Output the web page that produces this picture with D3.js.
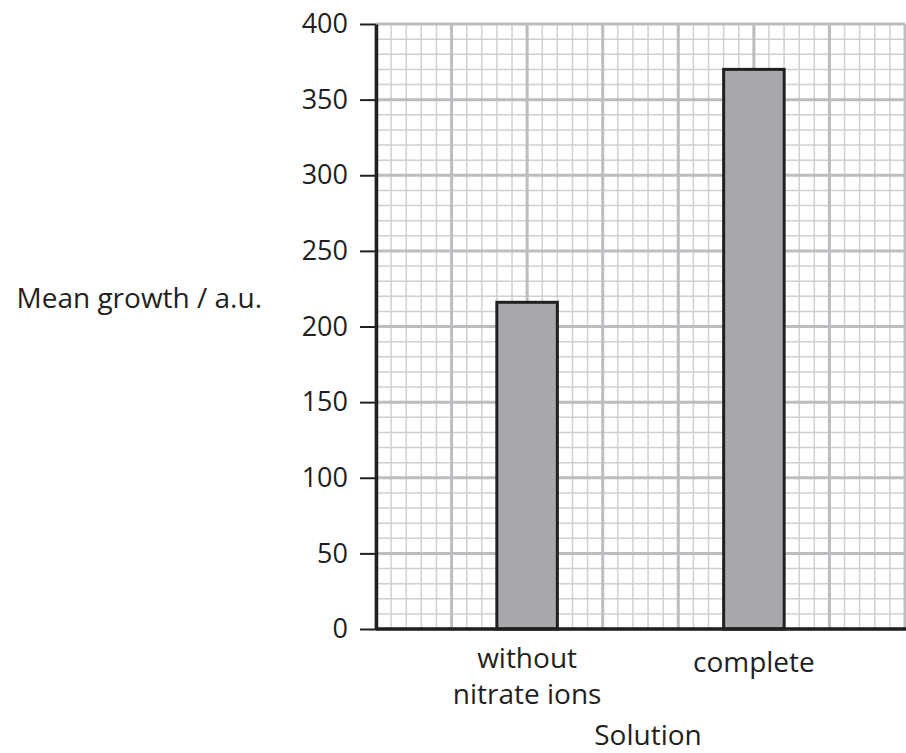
<!DOCTYPE html>
<html>
<head>
<meta charset="utf-8">
<script src="https://cdn.jsdelivr.net/npm/d3@7"></script>
<style>
  body { margin: 0; background: #fff; }
  svg text { font-family: "Open Sans", sans-serif; fill: #231f20; }
</style>
</head>
<body>
<svg id="chart" width="906" height="753"></svg>
<script>
var categories = ['without\nnitrate ions', 'complete'];
var meanGrowth = [216, 370];
var yTicks = [0, 50, 100, 150, 200, 250, 300, 350, 400];
var yLabel = 'Mean growth / a.u.';
var xLabel = 'Solution';

var svg = d3.select('#chart'),
    margin = {top: 24, right: 1, bottom: 124, left: 376},
    width = 906,
    height = 753,
    tickFont = 27,
    labelFont = 28;

var x = d3.scaleBand()
  .domain(categories)
  .range([margin.left, width - margin.right])
  .paddingInner(0.7332)
  .paddingOuter(0.5328);

var y = d3.scaleLinear()
  .domain([0, 400])
  .range([height - margin.bottom, margin.top]);

// graph paper: 35 small squares across, 10 units per small square up
var gx = d3.scaleLinear()
  .domain([0, 35])
  .range([margin.left, width - margin.right]);

var grid = svg.append('g');

// minor lines
d3.range(0, 401, 10).forEach(function(v){
  grid.append('line')
    .attr('x1', gx(0)).attr('x2', gx(35))
    .attr('y1', y(v)).attr('y2', y(v))
    .attr('stroke', '#cfd0d2').attr('stroke-width', 1.5);
});
d3.range(0, 36).forEach(function(i){
  grid.append('line')
    .attr('x1', gx(i)).attr('x2', gx(i))
    .attr('y1', y(0)).attr('y2', y(400))
    .attr('stroke', '#cfd0d2').attr('stroke-width', 1.5);
});

// major lines on top
d3.range(0, 401, 50).forEach(function(v){
  grid.append('line')
    .attr('x1', gx(0)).attr('x2', gx(35))
    .attr('y1', y(v)).attr('y2', y(v))
    .attr('stroke', '#bcbdc0').attr('stroke-width', 3);
});
d3.range(0, 36, 5).forEach(function(i){
  grid.append('line')
    .attr('x1', gx(i)).attr('x2', gx(i))
    .attr('y1', y(0)).attr('y2', y(400))
    .attr('stroke', '#bcbdc0').attr('stroke-width', 3);
});

// bars
svg.append('g')
  .selectAll('rect')
  .data(meanGrowth)
  .enter()
  .append('rect')
  .attr('x', function(d, i){ return x(categories[i]); })
  .attr('width', x.bandwidth())
  .attr('y', function(d){ return y(d); })
  .attr('height', function(d){ return y(0) - y(d); })
  .attr('fill', '#a7a8ab')
  .attr('stroke', '#231f20')
  .attr('stroke-width', 3);

// y axis
var yAxis = d3.axisLeft(y)
  .tickValues(yTicks)
  .tickSize(16)
  .tickSizeOuter(0)
  .tickPadding(12);

var gy = svg.append('g')
  .attr('transform', `translate(${margin.left}, 0)`)
  .call(yAxis);
gy.select('.domain').attr('stroke', '#231f20').attr('stroke-width', 3.5);
gy.selectAll('.tick line').attr('stroke', '#231f20').attr('stroke-width', 2);
gy.selectAll('.tick text')
  .attr('font-size', tickFont)
  .attr('font-family', '"Open Sans", sans-serif')
  .attr('fill', '#231f20');

// x axis
var xAxis = d3.axisBottom(x).tickSize(0).tickSizeOuter(0).tickFormat('');
var gxa = svg.append('g')
  .attr('transform', `translate(0, ${y(0)})`)
  .call(xAxis);
gxa.select('.domain')
  .attr('d', `M${margin.left},0H${width}`)
  .attr('stroke', '#231f20').attr('stroke-width', 3.5);

categories.forEach(function(c){
  var lines = c.split('\n');
  var cx = x(c) + x.bandwidth() / 2;
  var t = svg.append('text')
    .attr('text-anchor', 'middle')
    .attr('font-size', labelFont)
    .attr('x', cx)
    .attr('y', lines.length > 1 ? 668 : 672);
  lines.forEach(function(l, j){
    t.append('tspan')
      .attr('x', cx)
      .attr('dy', j === 0 ? 0 : 36)
      .text(l);
  });
});

// axis titles
svg.append('text')
  .attr('x', 648)
  .attr('y', 745)
  .attr('text-anchor', 'middle')
  .attr('font-size', labelFont)
  .text(xLabel);

svg.append('text')
  .attr('x', 262)
  .attr('y', 308)
  .attr('text-anchor', 'end')
  .attr('font-size', labelFont)
  .text(yLabel);
</script>
</body>
</html>
